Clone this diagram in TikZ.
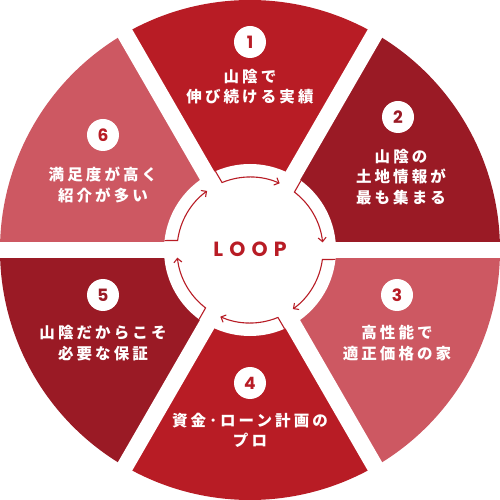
\documentclass[tikz,border=0pt]{standalone}
\usepackage{fontspec}
\usepackage{tikz}
\usetikzlibrary{arrows.meta}
\setmainfont{Poppins}
\newfontfamily\jpfont{Noto Sans CJK JP}[LetterSpace=20]
\newfontfamily\loopfont{Poppins}[LetterSpace=30]
\definecolor{loopred}{HTML}{B81C25}
\definecolor{loopdark}{HTML}{9A1A25}
\definecolor{looppink}{HTML}{CD5862}

\begin{document}
\begin{tikzpicture}[x=1pt,y=1pt,
	numdot/.style={circle,fill=white,minimum size=32pt,inner sep=0pt,font=\fontsize{17}{17}\selectfont\bfseries},
	steptext/.style={text=white,align=center,font=\jpfont\fontsize{15.5}{20.5}\selectfont\bfseries},
	looparrow/.style={loopred,line width=1.1pt,-{Straight Barb[length=4pt,width=8pt]}}]
	\useasboundingbox (-250,-250) rectangle (250,250);
	% sectors
	\fill[loopred] (0,0) -- (60:250) arc[start angle=60,end angle=120,radius=250] -- cycle;
	\fill[loopdark] (0,0) -- (0:250) arc[start angle=0,end angle=60,radius=250] -- cycle;
	\fill[looppink] (0,0) -- (-60:250) arc[start angle=-60,end angle=0,radius=250] -- cycle;
	\fill[loopred] (0,0) -- (-120:250) arc[start angle=-120,end angle=-60,radius=250] -- cycle;
	\fill[loopdark] (0,0) -- (180:250) arc[start angle=180,end angle=240,radius=250] -- cycle;
	\fill[looppink] (0,0) -- (120:250) arc[start angle=120,end angle=180,radius=250] -- cycle;
	% gaps and centre
	\foreach \a in {0,60,...,300}
		\draw[white,line width=16.6pt] (0,0) -- (\a:260);
	\fill[white] (0,0) circle (86);
	% loop arrows
	\foreach \a in {120,60,0,-60,-120,-180}
		\draw[looparrow] (\a-6.3:86) -- (\a-7.5:73) arc[start angle=\a-7.5,end angle=\a-54,radius=73];
	\node[text=loopred,font=\loopfont\fontsize{20.5}{20.5}\selectfont\bfseries] (loop) at (0,1) {LOOP};
	% steps
	\node[numdot,text=loopred] (num1) at (0,208) {1};
	\node[steptext] (txt1) at (0,163.5) {山陰で\\伸び続ける実績};
	\node[numdot,text=loopdark] (num2) at (148,133) {2};
	\node[steptext] (txt2) at (151,73) {山陰の\\土地情報が\\最も集まる};
	\node[numdot,text=loopred] (num3) at (147,-45) {3};
	\node[steptext] (txt3) at (147,-93) {高性能で\\適正価格の家};
	\node[numdot,text=loopred] (num4) at (0,-133) {4};
	\node[steptext] (txt4) at (0,-180.5) {資金･ローン計画の\\プロ};
	\node[numdot,text=loopdark] (num5) at (-147,-45) {5};
	\node[steptext] (txt5) at (-147,-93) {山陰だからこそ\\必要な保証};
	\node[numdot,text=loopred] (num6) at (-147,115) {6};
	\node[steptext] (txt6) at (-147,65) {満足度が高く\\紹介が多い};
\end{tikzpicture}
\end{document}
